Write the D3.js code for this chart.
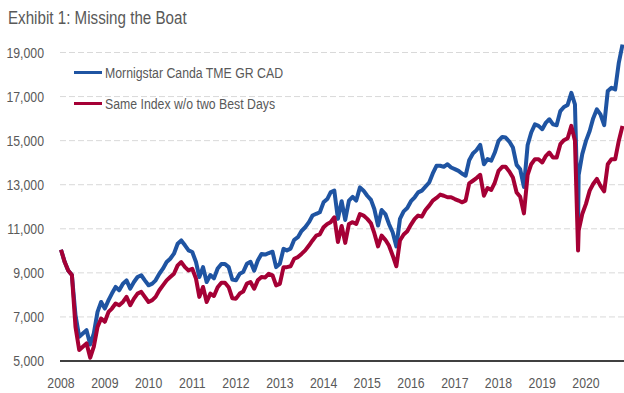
<!DOCTYPE html>
<meta charset="utf-8">
<script src="https://d3js.org/d3.v7.min.js"></script>
<style>
  body { margin: 0; background: #fff; }
  text { font-family: "Liberation Sans", Arial, sans-serif; fill: #595959; }
</style>
<div id="chart"></div>
<script>

// monthly sample dates, plus the crash bottom in late 2019
var dates = [
  "2008-01-01","2008-02-01","2008-03-01","2008-04-01","2008-05-01","2008-06-01","2008-07-01","2008-08-01","2008-09-01","2008-10-01","2008-11-01","2008-12-01",
  "2009-01-01","2009-02-01","2009-03-01","2009-04-01","2009-05-01","2009-06-01","2009-07-01","2009-08-01","2009-09-01","2009-10-01","2009-11-01","2009-12-01",
  "2010-01-01","2010-02-01","2010-03-01","2010-04-01","2010-05-01","2010-06-01","2010-07-01","2010-08-01","2010-09-01","2010-10-01","2010-11-01","2010-12-01",
  "2011-01-01","2011-02-01","2011-03-01","2011-04-01","2011-05-01","2011-06-01","2011-07-01","2011-08-01","2011-09-01","2011-10-01","2011-11-01","2011-12-01",
  "2012-01-01","2012-02-01","2012-03-01","2012-04-01","2012-05-01","2012-06-01","2012-07-01","2012-08-01","2012-09-01","2012-10-01","2012-11-01","2012-12-01",
  "2013-01-01","2013-02-01","2013-03-01","2013-04-01","2013-05-01","2013-06-01","2013-07-01","2013-08-01","2013-09-01","2013-10-01","2013-11-01","2013-12-01",
  "2014-01-01","2014-02-01","2014-03-01","2014-04-01","2014-05-01","2014-06-01","2014-07-01","2014-08-01","2014-09-01","2014-10-01","2014-11-01","2014-12-01",
  "2015-01-01","2015-02-01","2015-03-01","2015-04-01","2015-05-01","2015-06-01","2015-07-01","2015-08-01","2015-09-01","2015-10-01","2015-11-01","2015-12-01",
  "2016-01-01","2016-02-01","2016-03-01","2016-04-01","2016-05-01","2016-06-01","2016-07-01","2016-08-01","2016-09-01","2016-10-01","2016-11-01","2016-12-01",
  "2017-01-01","2017-02-01","2017-03-01","2017-04-01","2017-05-01","2017-06-01","2017-07-01","2017-08-01","2017-09-01","2017-10-01","2017-11-01","2017-12-01",
  "2018-01-01","2018-02-01","2018-03-01","2018-04-01","2018-05-01","2018-06-01","2018-07-01","2018-08-01","2018-09-01","2018-10-01","2018-11-01","2018-12-01",
  "2019-01-01","2019-02-01","2019-03-01","2019-04-01","2019-05-01","2019-06-01","2019-07-01","2019-08-01","2019-09-01","2019-10-01","2019-10-27","2019-11-01","2019-12-01",
  "2020-01-01","2020-02-01","2020-03-01","2020-04-01","2020-05-01","2020-06-01","2020-07-01","2020-08-01","2020-09-01","2020-10-01","2020-11-01"
];

var indexValues = [
  10050,9490,9110,8900,7080,6100,6250,6400,5750,6250,7230,7680,
  7380,7760,8060,8360,8210,8510,8660,8285,8585,8810,8890,8660,
  8435,8510,8660,8960,9190,9490,9640,9870,10320,10470,10250,10020,
  9945,9490,8810,9260,8585,8900,8750,9200,9400,9400,9260,8700,
  8660,8960,9040,9410,9500,9100,9560,9860,9830,9900,9960,9260,
  9410,10090,10020,10100,10500,10620,10900,11070,11300,11600,11680,11750,
  12200,12350,12650,12730,11450,12250,11400,12280,12450,12280,12880,12730,
  12500,12310,11900,11150,11850,11670,11220,10840,10200,11450,11790,11940,
  12250,12430,12650,12730,12910,13100,13510,13860,13860,13810,13930,13780,
  13710,13630,13510,13410,14110,14420,14570,14810,13930,14160,14090,14460,
  14990,15170,15140,14960,14690,13900,13700,12900,14800,15370,15740,15670,
  15520,15820,15970,15740,15700,16340,16530,16620,17170,16650,11220,13450,14390,
  14990,15440,16010,16420,16190,15700,17250,17400,17320,18530,19360
];

var noBestDays = [
  10050,9490,9110,8900,6550,5500,5650,5800,5150,5650,6550,6930,
  6780,7230,7380,7610,7530,7680,7910,7530,7830,8060,8140,7910,
  7680,7760,7910,8210,8435,8660,8810,8960,9340,9490,9260,9110,
  9185,8740,7910,8360,7680,8060,7950,8350,8550,8550,8350,7850,
  7830,8060,8150,8510,8585,8280,8660,8810,8790,8960,8890,8430,
  8500,9260,9260,9300,9640,9715,9860,10020,10240,10470,10690,10750,
  11070,11220,11300,11520,10400,11130,10360,11220,11300,11220,11670,11600,
  11450,11250,10800,10200,10690,10500,10240,9790,9300,10470,10740,10890,
  11190,11450,11600,11550,11850,12050,12280,12400,12550,12500,12430,12430,
  12350,12280,12200,12280,13060,13180,13300,13450,12500,12850,12760,13100,
  13630,13810,13810,13600,13330,12650,12450,11700,13450,13930,14160,14160,
  14010,14310,14460,14230,14230,14840,15020,15110,15670,14990,10015,10920,11670,
  12130,12730,13030,13260,12950,12700,13930,14160,14160,14990,15670
];

var seriesNames = ["Mornigstar Canda TME GR CAD", "Same Index w/o two Best Days"];
var seriesColors = ["#1f54a2", "#a50035"];
var yTicks = [5000, 7000, 9000, 11000, 13000, 15000, 17000, 19000];
var xYears = ["2008","2009","2010","2011","2012","2013","2014","2015","2016","2017","2018","2019","2020"];

var width = 624, height = 393;
var margin = {top: 52.5, right: 1.5, bottom: 32, left: 61};
// the original uses a condensed face; squeeze a regular one to match
var squeeze = 0.82;

var parseDate = d3.timeParse("%Y-%m-%d");
var parseYear = d3.timeParse("%Y");

var series = [indexValues, noBestDays].map(function(vals, i) {
  return {
    name: seriesNames[i],
    color: seriesColors[i],
    values: vals.map(function(v, j) { return {date: parseDate(dates[j]), value: v}; })
  };
});

var svg = d3.select("#chart")
  .append("svg")
    .attr("width", width)
    .attr("height", height);

var x = d3.scaleTime()
  .domain([parseDate(dates[0]), parseDate(dates[dates.length - 1])])
  .range([margin.left, width - margin.right]);

var y = d3.scaleLinear()
  .domain([5000, 19000])
  .range([height - margin.bottom, margin.top]);

function place(px, py) {
  return "translate(" + px + "," + py + ") scale(" + squeeze + ",1)";
}

// title
svg.append("text")
  .attr("transform", place(8, 24))
  .style("font-size", "18.5px")
  .text("Exhibit 1: Missing the Boat");

// gridlines
svg.append("g")
  .selectAll("line")
  .data(yTicks.slice(1))
  .enter()
  .append("line")
    .attr("x1", 60)
    .attr("x2", width)
    .attr("y1", function(d) { return y(d); })
    .attr("y2", function(d) { return y(d); })
    .attr("stroke", "#d9d9d9")
    .attr("stroke-width", 1)
    .attr("stroke-dasharray", "6,3");

// y labels
svg.append("g")
  .selectAll("text")
  .data(yTicks)
  .enter()
  .append("text")
    .attr("transform", function(d) { return place(44, y(d)); })
    .attr("dy", "0.36em")
    .attr("text-anchor", "end")
    .style("font-size", "15px")
    .text(function(d) { return d3.format(",")(d); });

// x labels
svg.append("g")
  .selectAll("text")
  .data(xYears)
  .enter()
  .append("text")
    .attr("transform", function(d) { return place(x(parseYear(d)), 388); })
    .attr("text-anchor", "middle")
    .style("font-size", "15px")
    .text(function(d) { return d; });

// lines, red on top
var line = d3.line()
  .x(function(d) { return x(d.date); })
  .y(function(d) { return y(d.value); });

svg.append("g")
  .selectAll("path")
  .data(series)
  .enter()
  .append("path")
    .attr("fill", "none")
    .attr("stroke", function(d) { return d.color; })
    .attr("stroke-width", 4)
    .attr("stroke-linejoin", "round")
    .attr("d", function(d) { return line(d.values); });

// baseline
svg.append("line")
  .attr("x1", 60)
  .attr("x2", width)
  .attr("y1", y(5000))
  .attr("y2", y(5000))
  .attr("stroke", "#000")
  .attr("stroke-width", 1.5);

// legend
var legend = svg.append("g")
  .selectAll("g")
  .data(series)
  .enter()
  .append("g")
    .attr("transform", function(d, i) { return "translate(74," + (72.5 + i * 31) + ")"; });

legend.append("line")
  .attr("x1", 0)
  .attr("x2", 28)
  .attr("stroke", function(d) { return d.color; })
  .attr("stroke-width", 3);

legend.append("text")
  .attr("transform", place(31, 0))
  .attr("dy", "0.36em")
  .style("font-size", "15px")
  .text(function(d) { return d.name; });

</script>
